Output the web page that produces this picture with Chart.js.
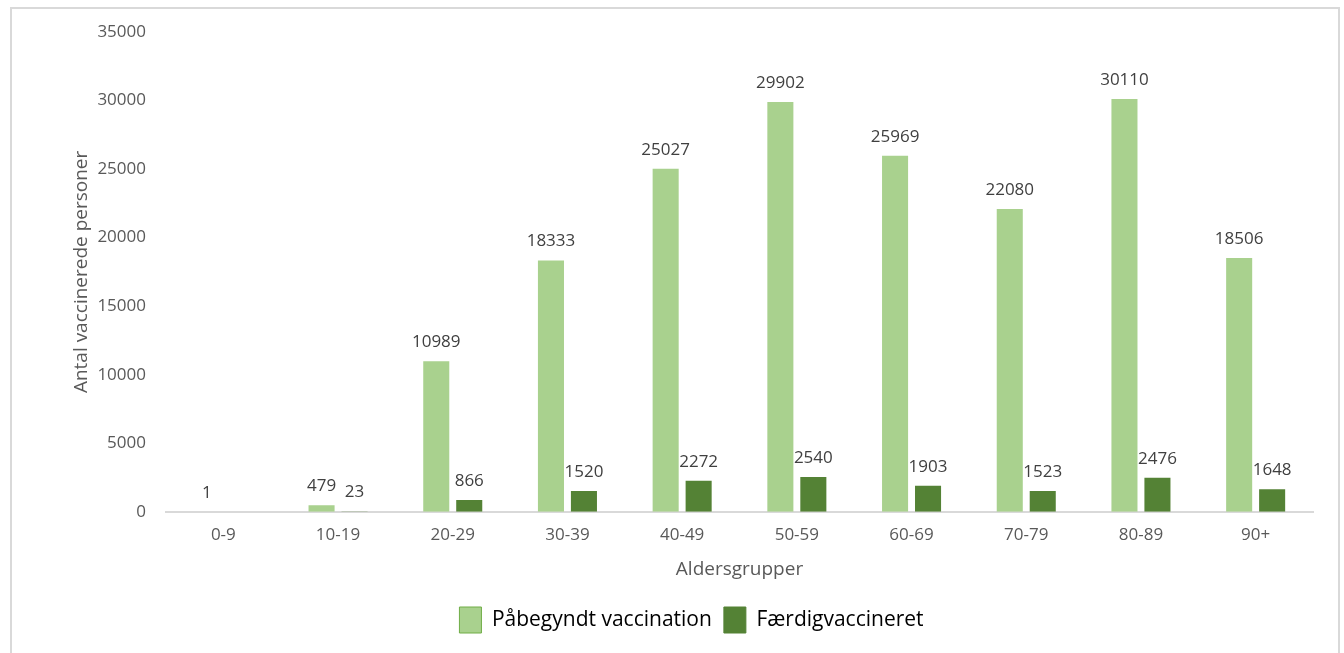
<!DOCTYPE html>
<html>
<head>
<meta charset="utf-8">
<script src="https://cdn.jsdelivr.net/npm/chart.js@4"></script>
<style>
  html, body { margin: 0; padding: 0; background: #fff; overflow: hidden; }
  #frame {
    position: absolute; left: 10px; top: 7px; width: 1326px; height: 660px;
    border: 2px solid #d9d9d9;
  }
  #wrap { position: absolute; left: 0; top: 0; width: 1344px; height: 653px; }
</style>
</head>
<body>
<div id="frame"></div>
<div id="wrap"><canvas id="vaccChart"></canvas></div>
<script>
const ageGroups = ["0-9", "10-19", "20-29", "30-39", "40-49", "50-59", "60-69", "70-79", "80-89", "90+"];
const startedValues = [1, 479, 10989, 18333, 25027, 29902, 25969, 22080, 30110, 18506];
const completedValues = [null, 23, 866, 1520, 2272, 2540, 1903, 1523, 2476, 1648];
const yTicks = [0, 5000, 10000, 15000, 20000, 25000, 30000, 35000];

const fontFamily = "'Open Sans', sans-serif";

// draws the value above every bar
const barLabels = {
  id: "barLabels",
  afterDatasetsDraw(chart) {
    const ctx = chart.ctx;
    ctx.save();
    ctx.font = "17px " + fontFamily;
    ctx.fillStyle = "#404040";
    ctx.textAlign = "center";
    ctx.textBaseline = "alphabetic";
    chart.data.datasets.forEach(function (ds, i) {
      const meta = chart.getDatasetMeta(i);
      meta.data.forEach(function (el, j) {
        const v = ds.data[j];
        if (v === null || v === undefined) return;
        ctx.fillText(String(v), el.x, el.y - 14);
      });
    });
    ctx.restore();
  },
};

const ctx = document.getElementById("vaccChart").getContext("2d");
const vaccChart = new Chart(ctx, {
  type: "bar",
  data: {
    labels: ageGroups,
    datasets: [
      {
        label: "Påbegyndt vaccination",
        data: startedValues,
        backgroundColor: "#a9d18e",
        borderWidth: 0,
        categoryPercentage: 0.575,
        barPercentage: 0.79,
      },
      {
        label: "Færdigvaccineret",
        data: completedValues,
        backgroundColor: "#548235",
        borderWidth: 0,
        categoryPercentage: 0.575,
        barPercentage: 0.79,
      },
    ],
  },
  options: {
    responsive: true,
    maintainAspectRatio: false,
    animation: false,
    layout: {
      padding: { left: 70, right: 31, top: 32, bottom: 10 },
    },
    plugins: {
      tooltip: { enabled: false },
      legend: {
        display: true,
        position: "bottom",
        labels: {
          color: "#000",
          font: { family: fontFamily, size: 21 },
          boxWidth: 22,
          boxHeight: 26,
          padding: 12,
          generateLabels: function (chart) {
            return chart.data.datasets.map(function (ds, i) {
              return {
                text: ds.label,
                fillStyle: ds.backgroundColor,
                strokeStyle: i === 0 ? "#70ad47" : ds.backgroundColor,
                lineWidth: 1,
                fontColor: "#000",
                datasetIndex: i,
              };
            });
          },
        },
      },
    },
    scales: {
      x: {
        grid: { display: false, drawTicks: false },
        border: { display: true, color: "#d9d9d9", width: 2 },
        ticks: {
          color: "#595959",
          font: { family: fontFamily, size: 17 },
          padding: 13,
        },
        title: {
          display: true,
          text: "Aldersgrupper",
          color: "#595959",
          font: { family: fontFamily, size: 19 },
          padding: { top: 0, bottom: 14 },
        },
      },
      y: {
        min: 0,
        max: 35000,
        afterBuildTicks: function (scale) {
          scale.ticks = yTicks.map(function (v) { return { value: v }; });
        },
        afterFit: function (scale) {
          scale.width = 96;
        },
        grid: { display: false, drawTicks: false },
        border: { display: false },
        ticks: {
          color: "#595959",
          font: { family: fontFamily, size: 17 },
          padding: 20,
          callback: function (value) { return String(value); },
        },
        title: {
          display: true,
          text: "Antal vaccinerede personer",
          color: "#595959",
          font: { family: fontFamily, size: 19 },
          padding: 0,
        },
      },
    },
  },
  plugins: [barLabels],
});
</script>
</body>
</html>
